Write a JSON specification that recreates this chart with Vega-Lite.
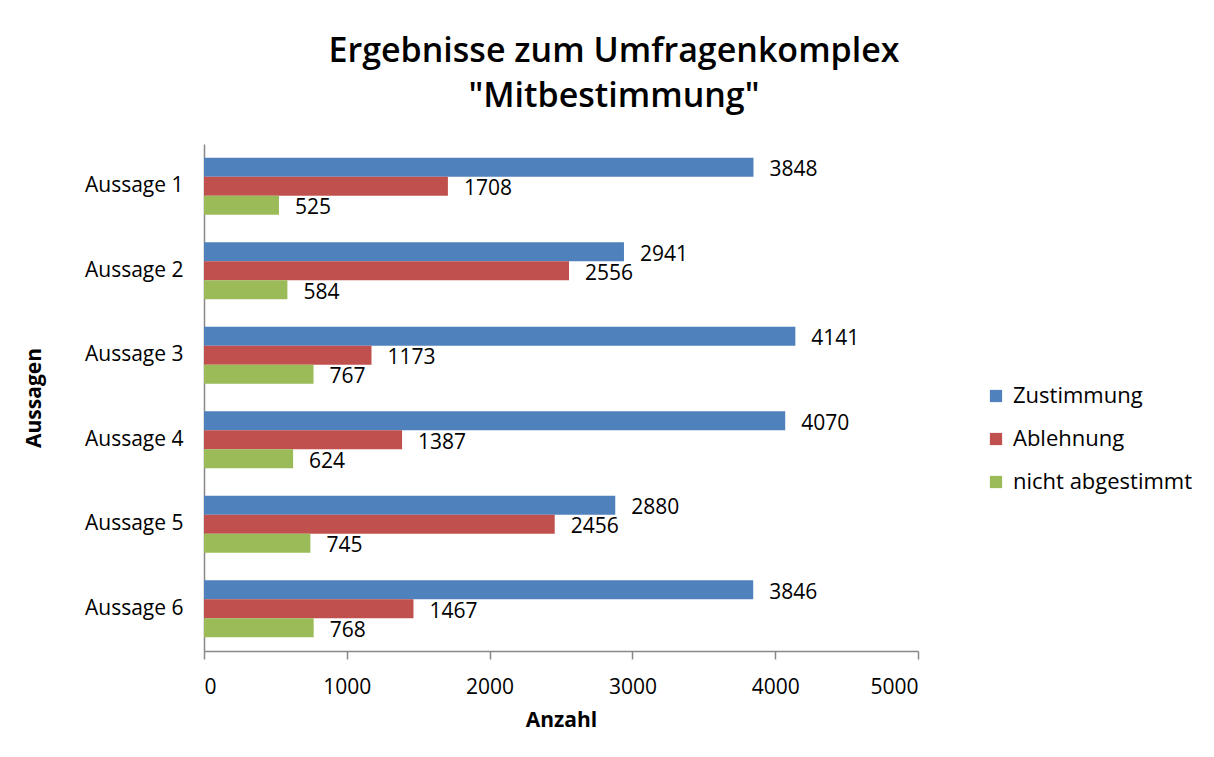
{
  "$schema": "https://vega.github.io/schema/vega-lite/v6.json",
  "width": 714,
  "height": 507,
  "autosize": {"type": "none"},
  "padding": {"left": 204, "top": 144, "right": 296, "bottom": 106},
  "background": "white",
  "title": {
    "text": ["Ergebnisse zum Umfragenkomplex", "\"Mitbestimmung\""],
    "font": "Open Sans",
    "fontSize": 34,
    "fontWeight": 600,
    "color": "black",
    "lineHeight": 45,
    "anchor": "middle",
    "dx": 53,
    "offset": 30
  },
  "config": {
    "font": "Open Sans",
    "view": {"stroke": null}
  },
  "data": {
    "values": [
      {"aussage": "Aussage 1", "serie": "Zustimmung", "anzahl": 3848},
      {"aussage": "Aussage 1", "serie": "Ablehnung", "anzahl": 1708},
      {"aussage": "Aussage 1", "serie": "nicht abgestimmt", "anzahl": 525},
      {"aussage": "Aussage 2", "serie": "Zustimmung", "anzahl": 2941},
      {"aussage": "Aussage 2", "serie": "Ablehnung", "anzahl": 2556},
      {"aussage": "Aussage 2", "serie": "nicht abgestimmt", "anzahl": 584},
      {"aussage": "Aussage 3", "serie": "Zustimmung", "anzahl": 4141},
      {"aussage": "Aussage 3", "serie": "Ablehnung", "anzahl": 1173},
      {"aussage": "Aussage 3", "serie": "nicht abgestimmt", "anzahl": 767},
      {"aussage": "Aussage 4", "serie": "Zustimmung", "anzahl": 4070},
      {"aussage": "Aussage 4", "serie": "Ablehnung", "anzahl": 1387},
      {"aussage": "Aussage 4", "serie": "nicht abgestimmt", "anzahl": 624},
      {"aussage": "Aussage 5", "serie": "Zustimmung", "anzahl": 2880},
      {"aussage": "Aussage 5", "serie": "Ablehnung", "anzahl": 2456},
      {"aussage": "Aussage 5", "serie": "nicht abgestimmt", "anzahl": 745},
      {"aussage": "Aussage 6", "serie": "Zustimmung", "anzahl": 3846},
      {"aussage": "Aussage 6", "serie": "Ablehnung", "anzahl": 1467},
      {"aussage": "Aussage 6", "serie": "nicht abgestimmt", "anzahl": 768}
    ]
  },
  "encoding": {
    "y": {
      "field": "aussage",
      "type": "nominal",
      "scale": {"paddingInner": 0.325, "paddingOuter": 0.1625},
      "axis": {
        "title": "Aussagen",
        "titleFont": "Open Sans",
        "titleFontSize": 21,
        "titleFontWeight": "bold",
        "titleColor": "black",
        "titlePadding": 40,
        "labelFontSize": 21,
        "labelColor": "black",
        "labelPadding": 21,
        "ticks": false,
        "domainColor": "#888888",
        "domainWidth": 1.5
      }
    },
    "yOffset": {
      "field": "serie",
      "type": "nominal",
      "scale": {"domain": ["Zustimmung", "Ablehnung", "nicht abgestimmt"], "paddingInner": 0, "paddingOuter": 0}
    },
    "x": {
      "field": "anzahl",
      "type": "quantitative",
      "scale": {"domain": [0, 5000], "nice": false},
      "axis": {
        "title": "Anzahl",
        "titleFontSize": 21,
        "titleFontWeight": "bold",
        "titleColor": "black",
        "titlePadding": 12,
        "values": [0, 1000, 2000, 3000, 4000, 5000],
        "format": "d",
        "labelFontSize": 21,
        "labelColor": "black",
        "labelPadding": 17,
        "grid": false,
        "tickColor": "#888888",
        "tickSize": 8,
        "tickWidth": 1.5,
        "domainColor": "#888888",
        "domainWidth": 1.5
      }
    }
  },
  "layer": [
    {
      "mark": {"type": "bar"},
      "encoding": {
        "color": {
          "field": "serie",
          "type": "nominal",
          "scale": {
            "domain": ["Zustimmung", "Ablehnung", "nicht abgestimmt"],
            "range": ["#4F81BD", "#C0504D", "#9BBB59"]
          },
          "legend": {
            "title": null,
            "orient": "none",
            "legendX": 781,
            "legendY": 241,
            "symbolType": "square",
            "symbolSize": 150,
            "symbolStrokeWidth": 0,
            "labelFontSize": 22,
            "labelColor": "black",
            "labelLimit": 300,
            "rowPadding": 21,
            "labelOffset": 6
          }
        }
      }
    },
    {
      "mark": {"type": "text", "align": "left", "baseline": "middle", "dx": 16, "dy": 3, "fontSize": 21, "color": "black"},
      "encoding": {
        "text": {"field": "anzahl", "type": "quantitative", "format": "d"}
      }
    }
  ]
}
